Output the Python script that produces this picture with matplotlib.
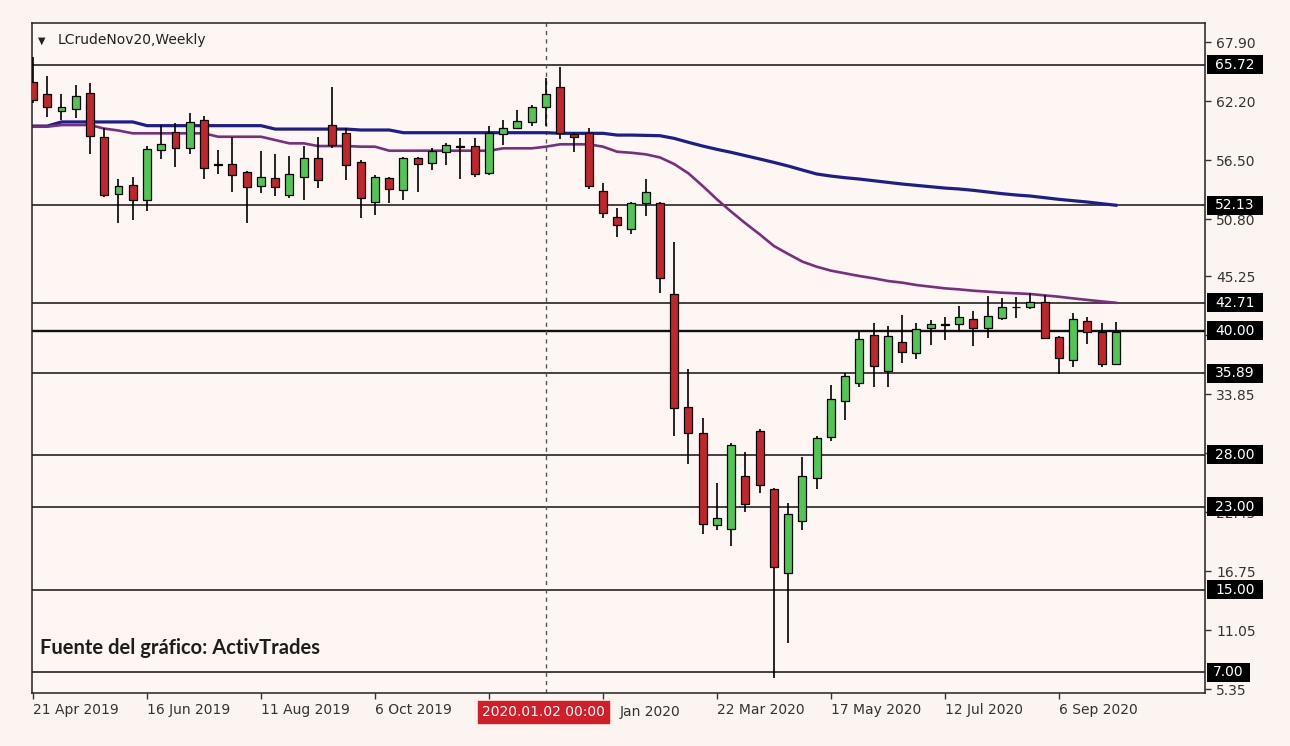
import numpy as np
import matplotlib
matplotlib.use("Agg")
import matplotlib.pyplot as plt
from matplotlib.patches import Rectangle

# Velas semanales LCrudeNov20, 21 abr 2019 -> 4 oct 2020
aperturas = [64.00, 62.90, 61.26, 61.40, 63.00, 58.75, 53.21, 54.11, 52.64, 57.47,
             59.23, 57.62, 60.36, 56.10, 56.11, 55.34, 54.02, 54.76, 53.12, 54.89,
             56.66, 59.88, 59.14, 56.33, 52.47, 54.73, 53.60, 56.66, 56.24, 57.30,
             57.80, 57.85, 55.21, 59.01, 59.56, 60.20, 61.59, 63.58, 58.98, 59.08,
             53.53, 50.96, 49.80, 52.31, 52.37, 43.55, 32.60, 30.15, 21.24, 20.82,
             26.00, 30.34, 24.68, 16.63, 21.66, 25.74, 29.76, 33.24, 34.92, 39.59,
             36.14, 38.94, 37.88, 40.24, 40.60, 40.65, 41.14, 40.24, 41.20, 42.30,
             42.33, 42.81, 39.43, 37.17, 40.97, 39.91, 36.79]
maximos = [66.50, 64.60, 62.88, 63.75, 63.97, 59.56, 54.63, 54.83, 57.85, 59.88,
           60.10, 61.00, 60.75, 57.50, 58.75, 55.40, 57.40, 57.05, 56.88, 57.90,
           58.75, 63.58, 59.56, 56.50, 55.05, 54.89, 56.82, 56.82, 57.69, 58.11,
           58.60, 58.60, 59.78, 60.36, 61.33, 61.81, 64.39, 65.51, 59.08, 59.56,
           54.25, 51.83, 52.47, 54.63, 52.47, 48.60, 36.28, 31.60, 25.26, 29.12,
           28.25, 30.47, 24.78, 23.33, 27.77, 29.83, 34.75, 35.95, 39.91, 40.72,
           40.46, 41.52, 40.72, 41.04, 41.36, 42.39, 41.94, 43.36, 43.13, 43.23,
           43.68, 43.45, 39.49, 41.75, 41.36, 40.78, 40.88]
minimos = [62.00, 60.68, 60.36, 60.53, 57.08, 52.95, 50.38, 50.70, 51.60, 56.57,
           55.85, 57.13, 54.63, 55.15, 53.44, 50.38, 53.28, 52.99, 52.80, 52.64,
           53.76, 57.62, 54.57, 50.87, 51.18, 52.31, 52.64, 53.44, 55.53, 56.02,
           54.63, 54.89, 55.05, 57.95, 59.50, 59.78, 59.78, 58.50, 57.30, 53.67,
           50.87, 49.09, 49.31, 51.09, 43.62, 29.86, 27.13, 20.36, 20.75, 19.20,
           22.52, 24.35, 6.42, 9.86, 20.75, 24.68, 29.38, 31.38, 34.56, 34.54,
           34.54, 36.91, 37.24, 38.62, 39.11, 39.91, 38.53, 39.27, 41.04, 41.20,
           42.07, 39.17, 35.82, 36.53, 38.72, 36.47, 36.69]
cierres = [62.30, 61.59, 61.65, 62.68, 58.82, 53.12, 53.99, 52.64, 57.53, 58.04,
           57.62, 60.20, 55.70, 56.05, 55.05, 53.92, 54.83, 53.86, 55.15, 56.66,
           54.57, 57.95, 56.02, 52.80, 54.83, 53.67, 56.66, 56.11, 57.40, 57.92,
           57.75, 55.15, 59.08, 59.56, 60.30, 61.65, 62.88, 59.08, 58.69, 54.02,
           51.41, 50.22, 52.37, 53.38, 45.07, 32.50, 30.09, 21.30, 21.88, 28.96,
           23.23, 25.10, 17.20, 22.26, 26.00, 29.67, 33.40, 35.66, 39.17, 36.59,
           39.49, 37.98, 40.14, 40.65, 40.55, 41.30, 40.24, 41.46, 42.33, 42.25,
           42.81, 39.34, 37.34, 41.11, 39.91, 36.79, 39.91]

# Medias móviles (azul = lenta, morada = rápida)
media_lenta = [59.78, 59.78, 60.18, 60.18, 60.18, 60.18, 60.18, 60.18, 59.82, 59.82,
               59.82, 59.82, 59.82, 59.82, 59.82, 59.82, 59.82, 59.49, 59.49, 59.49,
               59.49, 59.49, 59.49, 59.40, 59.40, 59.40, 59.14, 59.14, 59.14, 59.14,
               59.14, 59.14, 59.14, 59.14, 59.14, 59.14, 59.14, 59.08, 59.08, 59.08,
               59.08, 58.91, 58.91, 58.88, 58.85, 58.59, 58.21, 57.85, 57.53, 57.24,
               56.92, 56.60, 56.27, 55.92, 55.53, 55.15, 54.95, 54.79, 54.66, 54.50,
               54.34, 54.18, 54.05, 53.92, 53.79, 53.70, 53.57, 53.41, 53.25, 53.12,
               53.02, 52.86, 52.70, 52.57, 52.44, 52.28, 52.13]
media_rapida = [59.72, 59.72, 59.88, 59.88, 59.88, 59.54, 59.35, 59.08, 59.08, 59.08,
                59.08, 59.08, 59.08, 58.75, 58.75, 58.75, 58.75, 58.43, 58.11, 58.11,
                57.85, 57.85, 57.85, 57.79, 57.79, 57.40, 57.40, 57.40, 57.40, 57.40,
                57.40, 57.40, 57.40, 57.63, 57.63, 57.63, 57.79, 58.02, 58.02, 58.02,
                57.79, 57.30, 57.20, 57.05, 56.75, 56.11, 55.21, 53.99, 52.70, 51.51,
                50.38, 49.32, 48.19, 47.42, 46.68, 46.19, 45.81, 45.55, 45.29, 45.07,
                44.81, 44.65, 44.42, 44.26, 44.10, 44.00, 43.87, 43.78, 43.68, 43.62,
                43.55, 43.42, 43.29, 43.13, 42.98, 42.84, 42.71]

niveles = [65.72, 52.13, 42.71, 40.00, 35.89, 28.00, 23.00, 15.00, 7.00]
precios_eje = [67.90, 62.20, 56.50, 50.80, 45.25, 39.55, 33.85, 28.15, 22.45, 16.75, 11.05, 5.35]
precios_ocultos = [39.55, 28.15]          # tapados por las etiquetas negras
fechas_eje = ["21 Apr 2019", "16 Jun 2019", "11 Aug 2019", "6 Oct 2019", "1 Dec 2019",
              "26 Jan 2020", "22 Mar 2020", "17 May 2020", "12 Jul 2020", "6 Sep 2020"]
semanas_por_etiqueta = 8
semana_cursor = 36
fecha_cursor = "2020.01.02 00:00"

# Colores
fondo = "#fdf6f3"
rojo = "#c1262d"
verde = "#52c652"
azul = "#1d1d8e"
morado = "#7a2e7e"

x = np.arange(len(cierres))
o = np.array(aperturas); c = np.array(cierres)
h = np.array(maximos); l = np.array(minimos)

fig = plt.figure(figsize=(12.9, 7.46), dpi=100, facecolor="#fbf4f1")
ax = fig.add_axes([32/1290, 53/746, 1173/1290, 670/746])
ax.set_facecolor(fondo)

# Niveles horizontales
for v in niveles:
    ax.axhline(v, color="#111111", lw=1.7 if v == 40.00 else 1.1, zorder=1)

# Cursor
ax.axvline(semana_cursor, color="#555555", lw=1, ls=(0, (3, 3)), zorder=1)

# Medias
ax.plot(x, media_lenta, color=azul, lw=2.3, zorder=2)
ax.plot(x, media_rapida, color=morado, lw=1.9, zorder=2)

# Velas
colores = np.where(c >= o, verde, rojo)
altura = np.maximum(np.abs(c - o), 0.06)
ax.vlines(x, l, h, color="black", lw=1.2, zorder=3)
ax.bar(x, altura, bottom=np.minimum(o, c), width=0.56, color=colores,
       edgecolor="black", linewidth=0.9, zorder=4)

ax.set_xlim(-0.07, 82.25)
ax.set_ylim(5.0, 69.74)

# Ejes estilo MT4
ax.yaxis.tick_right()
ax.set_yticks(precios_eje)
ax.set_yticklabels(["" if v in precios_ocultos else f"{v:.2f}" for v in precios_eje])
pos_fechas = np.arange(len(fechas_eje)) * semanas_por_etiqueta
ax.set_xticks(pos_fechas)
# "1 Dec" queda tapada por la fecha del cursor y "26 Jan" solo asoma en parte
etiquetas = [t if i not in (4, 5) else "" for i, t in enumerate(fechas_eje)]
ax.set_xticklabels(etiquetas, ha="left")
ax.tick_params(axis="both", direction="out", length=4, width=1, colors="#333333",
               labelsize=10, labelcolor="#333333")
ax.tick_params(axis="x", pad=3)
ax.tick_params(axis="y", pad=4)
for s in ax.spines.values():
    s.set_color("#222222"); s.set_linewidth(1.1)

tx = ax.get_xaxis_transform()
ax.text(pos_fechas[5] + 1.15, -0.028, fechas_eje[5].split(" ", 1)[1], transform=tx,
        ha="left", va="center", color="#333333", fontsize=10, clip_on=False)

# Etiquetas de precio en negro
ty = ax.get_yaxis_transform()
alto = 19 / 10.35
for v in niveles:
    txt = f"{v:.2f}"
    ancho = (56 if len(txt) > 4 else 43) / 1173
    ax.add_patch(Rectangle((1.0015, v - alto / 2), ancho, alto, transform=ty,
                           facecolor="black", edgecolor="none", clip_on=False, zorder=5))
    ax.text(1.0015 + ancho / 2, v, txt, transform=ty, ha="center", va="center",
            color="white", fontsize=10, clip_on=False, zorder=6)

# Fecha del cursor
ax.text(semana_cursor - 0.15, -0.028, fecha_cursor, transform=tx, ha="center", va="center",
        color="white", fontsize=10, clip_on=False, zorder=6,
        bbox=dict(boxstyle="square,pad=0.3", facecolor="#d01f28", edgecolor="#d01f28"))

# Títulos
ax.text(0.005, 0.974, "▼", transform=ax.transAxes, fontsize=7, color="#222222",
        va="center", ha="left")
ax.text(0.022, 0.974, "LCrudeNov20,Weekly", transform=ax.transAxes, fontsize=10,
        color="#222222", va="center", ha="left")
ax.text(0.007, 0.067, "Fuente del gráfico: ActivTrades", transform=ax.transAxes,
        fontsize=14.5, fontweight="bold", family="Lato", color="#1e1e1e",
        va="center", ha="left")

plt.savefig("out.png", dpi=100, facecolor=fig.get_facecolor())
